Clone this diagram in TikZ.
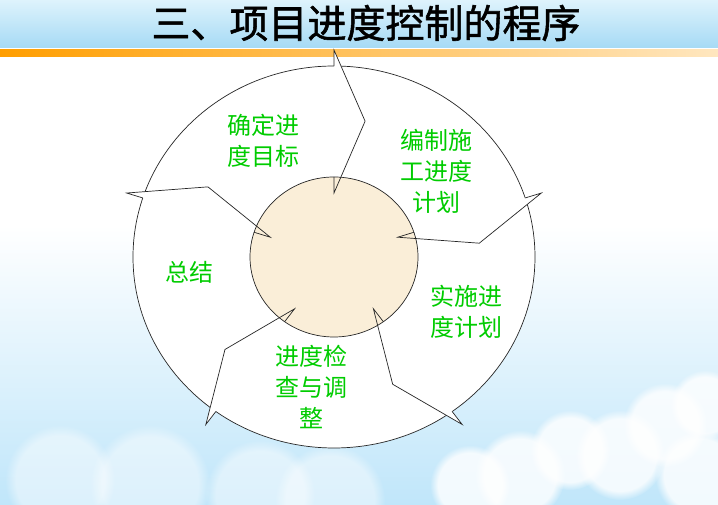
\documentclass[tikz,border=0pt]{standalone}
\usepackage{fontspec}
\newfontfamily\cjk{Noto Sans CJK SC}
\newfontfamily\titlecjk[FakeBold=1.4]{Noto Sans CJK SC}
\usetikzlibrary{calc,fadings}
\definecolor{stepgreen}{RGB}{0,204,0}
\definecolor{hubfill}{RGB}{250,238,216}
\definecolor{skyblue}{RGB}{192,230,250}
\definecolor{titletop}{RGB}{222,243,252}
\definecolor{titleblue}{RGB}{166,218,245}
\definecolor{barorange}{RGB}{255,158,0}
\tikzset{
  steptext/.style={text=stepgreen, font=\cjk\fontsize{24}{31}\selectfont, align=center, inner sep=0pt},
  chevron/.style={draw=black!85, line width=0.7pt, line join=miter},
  cloud/.style={fill=white, path fading=circle with fuzzy edge 20 percent, opacity=0.8}
}
\begin{document}
\begin{tikzpicture}[x=1pt,y=1pt]
\useasboundingbox (0,0) rectangle (718,505);
% background and sky
\fill[white] (0,0) rectangle (718,505);
\shade[top color=white, bottom color=skyblue] (0,0) rectangle (718,280);
\foreach \cx/\cy/\r in {520/30/45, 570/55/40, 620/50/45, 665/80/42, 705/100/35, 470/20/40, 700/30/45}{
  \fill[cloud] (\cx,\cy) circle (\r);
}
\foreach \cx/\cy/\r in {330/5/55, 260/10/55, 150/20/60, 60/25/55}{
  \fill[cloud, opacity=0.45] (\cx,\cy) circle (\r);
}
% title bar
\shade[top color=titletop, bottom color=titleblue] (0,457) rectangle (718,505);
\shade[left color=barorange, right color=barorange!25] (0,448) rectangle (718,455);
\node (title) at (366,482) {\titlecjk\fontsize{39}{42}\selectfont 三、项目进度控制的程序};

% ring and hub
\coordinate (O) at (334,248);
\filldraw[fill=white, draw=black!85, line width=0.7pt] (O) ellipse [x radius=201, y radius=191];
\filldraw[fill=hubfill, draw=black!85, line width=0.7pt] (O) ellipse [x radius=84, y radius=80];

% arrow heads between the steps
\foreach \a [count=\i] in {90,18,-54,-126,-198}{
  \coordinate (A\i) at ($(O)+(\a:201 and 191)$);
  \coordinate (B\i) at ($(O)+(\a:218 and 207)$);
  \coordinate (P\i) at ($(O)+(\a-12.3:146 and 139)$);
  \coordinate (C\i) at ($(O)+(\a:67 and 64)$);
  \coordinate (D\i) at ($(O)+(\a:84 and 80)$);
  \fill[white] (A\i) -- (B\i) -- (P\i) -- cycle;
  \draw[chevron] (A\i) -- (B\i) -- (P\i) -- (C\i) -- (D\i);
}

% steps
\node[steptext] (goal) at (263,364) {确定进\\度目标};
\node[steptext] (plan) at (436,334) {编制施\\工进度\\计划};
\node[steptext] (run) at (466,193) {实施进\\度计划};
\node[steptext] (check) at (311,118) {进度检\\查与调\\整};
\node[steptext] (sum) at (189,233) {总结};
\end{tikzpicture}
\end{document}
